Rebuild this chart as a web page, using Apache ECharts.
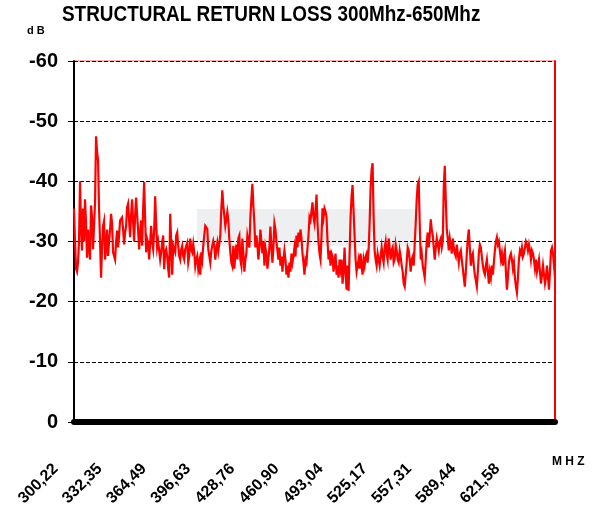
<!DOCTYPE html>
<html>
<head>
<meta charset="utf-8">
<script src="https://cdn.jsdelivr.net/npm/echarts@6/dist/echarts.min.js"></script>
<style>
html,body{margin:0;padding:0;background:#fff;}
#chart{width:594px;height:508px;}
</style>
</head>
<body>
<div id="chart"></div>
<script>
// Sweep range (MHz)
const freqStart = 300.22;
const freqEnd = 650;
// Tick labels on the frequency axis
const xTickValues = [300.22, 332.35, 364.49, 396.63, 428.76, 460.90, 493.04, 525.17, 557.31, 589.44, 621.58];
const yTickValues = [-60, -50, -40, -30, -20, -10, 0];
// Structural return loss (dB), uniformly swept from freqStart to freqEnd
const returnLoss = [
  // 300 - 380 MHz
  -35.5, -30, -25.5, -25, -26.5, -30, -40, -32.5, -28.5, -35.5, -30, -37, -33, -27.3, -32, -29, -27, -36, -34, -28.7,
  -32.5, -36.5, -47.5, -45, -43.5, -35.4, -30, -24, -29, -32.6, -33.4, -27, -29, -32, -27.6, -30, -32, -34.6, -33, -28.2,
  -27.6, -27, -30, -31.8, -29, -31, -33.5, -33.7, -34, -32, -29.5, -31.5, -32.6, -35.7, -36.3, -36.6, -30.7, -34.4, -37, -33.2,
  -30, -34.4, -37.3, -34.4, -31.8, -28.7, -31.5, -33.5, -29.3, -35.4, -39.9, -33.7, -28.2, -30.4, -29.8, -27, -29.8, -32.6, -29.8, -28.7,
  -31.8, -37.5, -33, -29, -30, -28.5, -27, -28.2, -29.8, -31, -25.4, -28.2, -28.7, -27.6, -25.4, -24, -34.6, -29.8, -24.5, -29.3,
  -28.7, -28.2, -31, -31.5, -29.3, -27.6, -27, -28.7, -29.3, -27.6, -27, -28.7, -29.3, -29.8, -26.5, -27.6, -30.5, -28.7, -28.2, -29.6,
  -28.2, -25.9, -27, -27.6, -25.4, -26.5, -24.5, -28.2, -27, -29.3, -31, -32.6, -32.9, -32.1, -28.7, -27.6, -26.5, -28.4, -29.3, -30.1,
  -29.3, -27, -28.7, -29.8, -28.4, -28.7, -31, -35.4, -38.5, -36, -34.3, -32.6, -33.7, -34.9, -33.5, -30.4, -28.2, -26.5, -25.9, -29.3,
  // 380 - 485 MHz
  -25.5, -28, -29.5, -27, -30.5, -31, -27, -26, -30.5, -28, -25, -27, -28, -31, -30, -29, -34, -37, -39.6, -36,
  -33, -29, -31, -29.5, -27, -29, -32, -30, -28, -30, -26, -29, -28, -25.5, -27, -29, -32.5, -29, -26.5, -29,
  -33, -32, -30, -28.5, -27, -29, -26, -27.5, -25, -27, -28.5, -27, -24.5, -26, -24, -26.5, -25, -28, -26.5, -27.5,
  -29, -27.5, -31, -29, -31.5, -30, -32, -30.5, -28, -26.5, -24.5, -27, -26.5, -29, -31, -34, -33.5, -35, -36.5, -34,
  -33, -35, -37.8, -33, -30, -28, -27, -31, -35.5, -34, -35.5, -35, -34, -30, -27, -28.5, -26, -28, -27.5, -25,
  -26.5, -28, -24.5, -26, -24, -27, -25.5, -27, -23, -25, -29, -25, -22, -26, -21.8, -28, -34, -37.5, -39.4, -35,
  -31, -27, -25, -26, -27, -25.5, -28, -26, -24.5, -27, -26, -27.5, -28, -26.5, -28.5, -33, -39, -42, -43, -34,
  -28.5, -27, -26, -28, -27, -26, -27.5,
  // 485 - 650 MHz
  -29, -27.5, -26.5, -29, -30, -28, -27, -30.5, -29, -27, -28.5, -29, -26.5, -27, -29.5, -28.5, -27, -26.5, -28.5, -27.5,
  -26, -25, -23, -22.5, -24.5, -26.5, -29, -28.5, -27, -25, -27, -27.5, -26, -29.5, -33, -37, -39.5, -40, -33, -27,
  -28, -26, -25, -24, -27, -30, -31.5, -29, -31, -33.7, -32, -31, -29, -27, -29, -30.5, -29.5, -28.5, -30, -30.5,
  -29, -30, -39, -42.6, -37, -32, -30.5, -28.5, -30.5, -29.3, -28, -30.5, -29, -28, -27.5, -29.5, -28, -26.5, -28, -28.5,
  -27, -25.5, -24, -22.5, -25, -28, -30.5, -32, -29, -26, -27.5, -28, -26, -24.5, -23.5, -22.5, -25, -28, -29.5, -29,
  -27.5, -26, -25, -24.5, -26, -27, -25, -23, -25, -24, -26, -24.5, -26.5, -28.5, -30, -30.7, -29.5, -30, -28.5, -27,
  -28, -26, -27.5, -28.5, -25, -22, -24, -26.5, -27.5, -28, -27, -25.5, -26.5, -24, -22.5, -21.5, -24, -27, -28.5, -28,
  -29, -27.5, -28, -29, -30, -29.5, -28.5, -29.5, -28.5, -27, -28.5, -28, -27, -25.5, -27, -25, -26, -27, -25, -23,
  -24.5, -26, -24.5, -23, -24, -26, -24, -22, -25, -28.5, -29, -28, -26, -24
];

const step = (freqEnd - freqStart) / (returnLoss.length - 1);
const seriesData = returnLoss.map((v, i) => [freqStart + i * step, v]);

const chart = echarts.init(document.getElementById('chart'));
const baseFont = 'Liberation Sans, Arial, sans-serif';

chart.setOption({
  animation: false,
  backgroundColor: '#ffffff',
  grid: {
    left: 74, right: 39, top: 61, bottom: 86,
    containLabel: false,
    outerBoundsMode: 'none',
    show: true, borderColor: '#ff6666', borderWidth: 1, backgroundColor: 'transparent'
  },
  graphic: [
    {
      type: 'rect', z: 0, silent: true,
      shape: { x: 197, y: 209, width: 218, height: 37 },
      style: { fill: 'rgba(212,215,220,0.4)' }
    },
    {
      type: 'text', left: 62, top: 4, z: 10, scaleX: 0.86,
      style: { text: 'STRUCTURAL RETURN LOSS 300Mhz-650Mhz', font: 'bold 22px ' + baseFont, fill: '#000' }
    },
    {
      type: 'text', left: 27, top: 25, z: 10,
      style: { text: 'd B', font: 'bold 11px ' + baseFont, fill: '#000' }
    },
    {
      type: 'text', left: 552, top: 456, z: 10,
      style: { text: 'M H Z', font: 'bold 12px ' + baseFont, fill: '#000' }
    }
  ],
  xAxis: {
    type: 'value',
    min: freqStart,
    max: freqEnd,
    axisLine: { show: true, onZero: false, lineStyle: { color: '#000', width: 6 } },
    axisTick: { show: false },
    splitLine: { show: false },
    axisLabel: {
      customValues: xTickValues,
      rotate: 45,
      margin: 26,
      padding: [0, 26, 0, 0],
      formatter: v => v.toFixed(2).replace('.', ','),
      color: '#000',
      fontWeight: 'bold',
      fontSize: 16,
      fontFamily: baseFont
    }
  },
  yAxis: [
    {
      type: 'value',
      inverse: true,
      min: -60,
      max: 0,
      interval: 10,
      axisLine: { show: true, lineStyle: { color: '#000', width: 2 } },
      axisTick: { show: true, inside: false, length: 6, lineStyle: { color: '#000', width: 1 } },
      splitLine: { show: true, lineStyle: { color: '#000', type: [4, 2], width: 1 } },
      axisLabel: {
        customValues: yTickValues,
        margin: 16,
        color: '#000',
        fontWeight: 'bold',
        fontSize: 20,
        fontFamily: baseFont
      }
    },
    {
      type: 'value',
      position: 'right',
      inverse: true,
      min: -60,
      max: 0,
      interval: 10,
      axisLine: { show: true, lineStyle: { color: '#ff0000', width: 2 } },
      axisTick: { show: false },
      axisLabel: { show: false },
      splitLine: { show: false }
    }
  ],
  series: [
    {
      type: 'line',
      data: seriesData,
      yAxisIndex: 0,
      symbol: 'none',
      z: 5,
      lineStyle: { color: '#ff0000', width: 2.2, join: 'miter' }
    }
  ]
});
</script>
</body>
</html>
